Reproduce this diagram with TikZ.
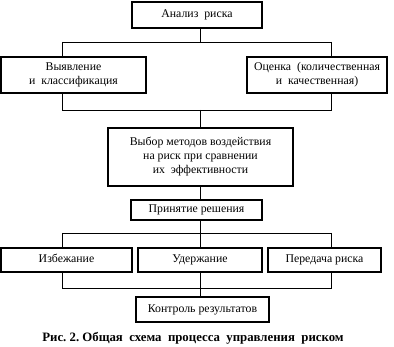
\documentclass[tikz,border=0pt]{standalone}
\usepackage{fontspec}
\setmainfont{Liberation Serif}
\begin{document}
\begin{tikzpicture}[x=1pt,y=-1pt,
  box/.style={draw,line width=1.2pt,inner sep=0pt,align=center,font=\fontsize{11.8}{14}\selectfont},
  oneline/.style={text height=8.5pt,text depth=2.8pt},
  conn/.style={line width=0.7pt}]
\useasboundingbox (0,0) rectangle (394,347);
\node[box,oneline,minimum width=130,minimum height=26] (a) at (197,15) {Анализ~ риска};
\node[box,minimum width=145,minimum height=36] (b) at (73.5,75) {Выявление\\и~ классификация};
\node[box,minimum width=140,minimum height=36] (c) at (317,75) {Оценка~ (количественная\\и~ качественная)};
\node[box,minimum width=185,minimum height=58] (d) at (200.5,157) {Выбор методов воздействия\\на риск при сравнении\\их~ эффективности};
\node[box,oneline,minimum width=131,minimum height=20] (e) at (196.5,210) {Принятие решения};
\node[box,oneline,minimum width=131,minimum height=24] (f) at (66.5,260) {Избежание};
\node[box,oneline,minimum width=124,minimum height=24] (g) at (200,260) {Удержание};
\node[box,oneline,minimum width=113,minimum height=24] (h) at (324.5,260) {Передача риска};
\node[box,oneline,minimum width=133,minimum height=25] (i) at (202.5,309.5) {Контроль результатов};
\node[font=\bfseries\fontsize{12.8}{14}\selectfont] (cap) at (193,338) {Рис.~2.~Общая~~схема~~процесса~~управления~~риском};
\coordinate (t1) at (62,42);
\coordinate (t2) at (331,42);
\coordinate (tm) at (200,42);
\coordinate (u1) at (62,110);
\coordinate (u2) at (331,110);
\coordinate (um) at (200,110);
\coordinate (v1) at (62,233);
\coordinate (v2) at (331,233);
\coordinate (vm) at (200,233);
\coordinate (w1) at (62,288);
\coordinate (w2) at (331,288);
\draw[conn] (a.south -| tm) -- (tm);
\draw[conn] (t1) -- (t2);
\draw[conn] (t1) -- (t1 |- b.north);
\draw[conn] (t2) -- (t2 |- c.north);
\draw[conn] (u1 |- b.south) -- (u1) -- (u2) -- (u2 |- c.south);
\draw[conn] (um) -- (um |- d.north);
\draw[conn] (d.south -| vm) -- (vm |- e.north);
\draw[conn] (e.south -| vm) -- (vm);
\draw[conn] (v1) -- (v2);
\draw[conn] (v1) -- (v1 |- f.north);
\draw[conn] (vm) -- (vm |- g.north);
\draw[conn] (v2) -- (v2 |- h.north);
\draw[conn] (w1 |- f.south) -- (w1) -- (w2) -- (w2 |- h.south);
\draw[conn] (g.south -| vm) -- (vm |- i.north);
\end{tikzpicture}
\end{document}
